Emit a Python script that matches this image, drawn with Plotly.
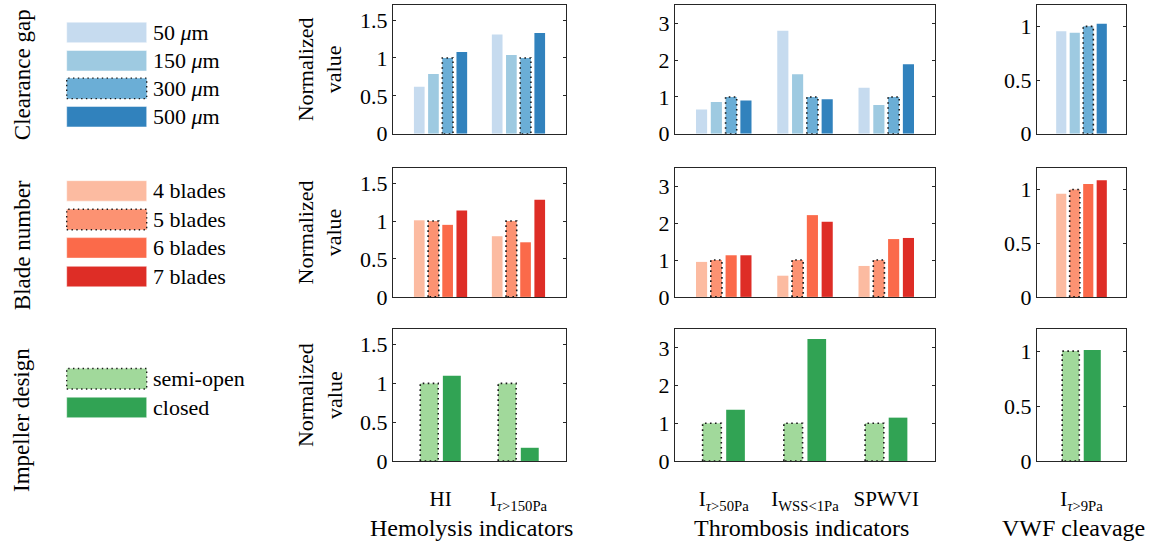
import plotly.graph_objects as go

# ---------------- data ----------------
hemo_cats = ["HI", "I<sub><i>τ</i>&gt;150Pa</sub>"]
thromb_cats = ["I<sub><i>τ</i>&gt;50Pa</sub>", "I<sub>WSS&lt;1Pa</sub>", "SPWVI"]
vwf_cats = ["I<sub><i>τ</i>&gt;9Pa</sub>"]

gap_names = ["50 <i>μ</i>m", "150 <i>μ</i>m", "300 <i>μ</i>m", "500 <i>μ</i>m"]
gap_colors = ["#c6dbef", "#9ecae1", "#6baed6", "#3182bd"]
gap_hemo = [[0.62, 1.31], [0.79, 1.04], [1.0, 1.0], [1.08, 1.33]]
gap_thromb = [[0.66, 2.80, 1.25], [0.86, 1.62, 0.78], [1.0, 1.0, 1.0], [0.905, 0.94, 1.89]]
gap_vwf = [[0.955], [0.94], [1.0], [1.024]]

blade_names = ["4 blades", "5 blades", "6 blades", "7 blades"]
blade_colors = ["#fcbba1", "#fc9272", "#fb6a4a", "#de2d26"]
blade_hemo = [[1.01, 0.80], [1.0, 1.0], [0.95, 0.72], [1.14, 1.28]]
blade_thromb = [[0.95, 0.575, 0.84], [1.0, 1.0, 1.0], [1.13, 2.22, 1.57], [1.13, 2.04, 1.60]]
blade_vwf = [[0.96], [1.0], [1.05], [1.085]]

imp_names = ["semi-open", "closed"]
imp_colors = ["#a1d99b", "#31a354"]
imp_hemo = [[1.0, 1.0], [1.10, 0.17]]
imp_thromb = [[1.0, 1.0, 1.0], [1.36, 3.24, 1.15]]
imp_vwf = [[1.0], [1.01]]

row_labels = ["Clearance gap", "Blade number", "Impeller design"]
col_titles = ["Hemolysis indicators", "Thrombosis indicators", "VWF cleavage"]
ref_index = [2, 1, 0]  # reference (dotted) series per row

# ---------------- layout geometry ----------------
W, H = 1150, 556
col_px = [(393, 566), (675, 935), (1037, 1126)]
row_px = [(5, 137), (172, 304), (337, 472)]
yranges = [[0, 1.7], [0, 3.5], [0, 1.2]]
yticks = [[0, 0.5, 1, 1.5], [0, 1, 2, 3], [0, 0.5, 1]]
xranges = [[-0.61, 1.61], [-0.6, 2.6], [-0.6, 0.6]]
col_title_x = [471, 801, 1073]
FONT = "Liberation Serif"
AX = "#262626"

rows = [
    (gap_names, gap_colors, [gap_hemo, gap_thromb, gap_vwf]),
    (blade_names, blade_colors, [blade_hemo, blade_thromb, blade_vwf]),
    (imp_names, imp_colors, [imp_hemo, imp_thromb, imp_vwf]),
]
col_cats = [hemo_cats, thromb_cats, vwf_cats]

fig = go.Figure()
layout = dict(
    width=W, height=H, margin=dict(l=0, r=0, t=0, b=0),
    paper_bgcolor="white", plot_bgcolor="white", showlegend=False,
    barmode="overlay", font=dict(family=FONT, size=22, color="black"),
)

k = 0
for r, (names, colors, datasets) in enumerate(rows):
    n_s = len(names)
    step = 0.182 if n_s == 4 else 0.29
    bw = 0.137 if n_s == 4 else 0.23
    for c in range(3):
        k += 1
        xa = "x" if k == 1 else f"x{k}"
        ya = "y" if k == 1 else f"y{k}"
        data = datasets[c]
        cats = col_cats[c]
        for i in range(n_s):
            xs = [j + (i - (n_s - 1) / 2) * step for j in range(len(cats))]
            fig.add_trace(go.Bar(
                x=xs, y=data[i], width=[bw] * len(cats),
                marker=dict(color=colors[i], line=dict(width=0)),
                name=names[i], xaxis=xa, yaxis=ya,
            ))
            if i == ref_index[r]:
                for x0, v in zip(xs, data[i]):
                    fig.add_trace(go.Scatter(
                        x=[x0 - bw / 2, x0 - bw / 2, x0 + bw / 2, x0 + bw / 2, x0 - bw / 2],
                        y=[0, v, v, 0, 0], mode="lines",
                        line=dict(color="#1a1a1a", width=1.6, dash="1.6px,3.4px"),
                        xaxis=xa, yaxis=ya, hoverinfo="skip",
                    ))
        x0p, x1p = col_px[c]
        y0p, y1p = row_px[r]
        layout["xaxis" if k == 1 else f"xaxis{k}"] = dict(
            domain=[x0p / W, x1p / W], anchor=ya, range=xranges[c],
            tickvals=list(range(len(cats))), ticktext=cats,
            showticklabels=(r == 2), ticks="", showline=True, mirror=True,
            linecolor=AX, linewidth=1, showgrid=False, zeroline=False,
            tickfont=dict(family=FONT, size=21, color="black"),
            ticklabelstandoff=19,
        )
        layout["yaxis" if k == 1 else f"yaxis{k}"] = dict(
            domain=[1 - y1p / H, 1 - y0p / H], anchor=xa, range=yranges[c],
            tickvals=yticks[c], ticks="inside", ticklen=3, tickcolor=AX,
            showline=True, mirror="allticks", linecolor=AX, linewidth=1,
            showgrid=False, zeroline=False,
            tickfont=dict(family=FONT, size=22, color="black"),
        )

fig.update_layout(**layout)

# ---------------- annotations: row labels, y titles, column titles ----------------
row_label_y = [77, 251, 430]
for r, lab in enumerate(row_labels):
    fig.add_annotation(x=22 / W, y=1 - row_label_y[r] / H, xref="paper", yref="paper",
                       text=lab, textangle=-90, showarrow=False,
                       xanchor="center", yanchor="middle",
                       font=dict(family=FONT, size=23, color="black"))
for r in range(3):
    yc = (row_px[r][0] + row_px[r][1]) / 2
    fig.add_annotation(x=320 / W, y=1 - yc / H, xref="paper", yref="paper",
                       text="Normalized<br>value", textangle=-90, showarrow=False,
                       xanchor="center", yanchor="middle",
                       font=dict(family=FONT, size=22, color="black"))
for c, t in enumerate(col_titles):
    fig.add_annotation(x=col_title_x[c] / W, y=1 - 541 / H, xref="paper", yref="paper",
                       text=t, showarrow=False, xanchor="center", yanchor="middle",
                       font=dict(family=FONT, size=24, color="black"))

# ---------------- legends (drawn in paper space) ----------------
leg_tops = [[22.7, 51.7, 80, 109], [185, 214.3, 243.3, 272.7], [377.3, 406.7]]
shapes = []
for r, (names, colors, _) in enumerate(rows):
    for i, (nm, col) in enumerate(zip(names, colors)):
        t = leg_tops[r][i]
        b = t + 21
        ref = (i == ref_index[r])
        shapes.append(dict(
            type="rect", xref="paper", yref="paper",
            x0=66.7 / W, x1=146.7 / W, y0=1 - b / H, y1=1 - t / H,
            fillcolor=col,
            line=dict(color="#1a1a1a" if ref else "rgba(255,255,255,0.6)",
                      width=1.4 if ref else 0.8,
                      dash="1.4px,3.4px" if ref else "solid"),
        ))
        fig.add_annotation(x=151 / W, y=1 - (t + 10.5) / H, xref="paper", yref="paper",
                           text=nm, showarrow=False, xanchor="left", yanchor="middle",
                           font=dict(family=FONT, size=22, color="black"))
fig.update_layout(shapes=shapes)

fig.write_html("out.html")
